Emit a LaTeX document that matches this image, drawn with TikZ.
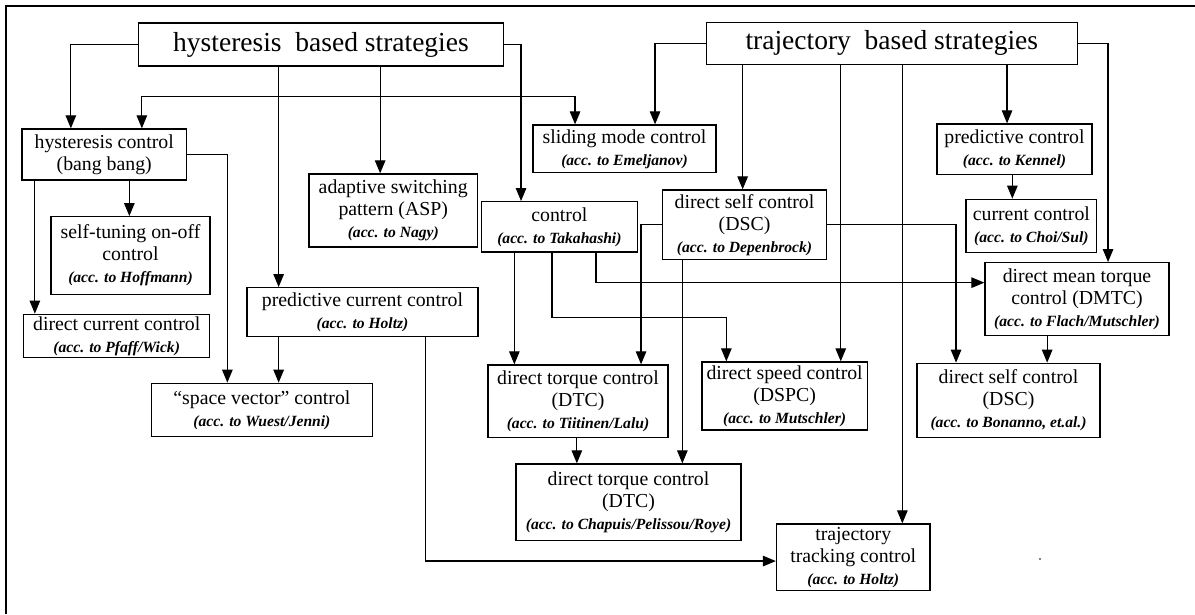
\documentclass[tikz,border=0pt]{standalone}
\usepackage{fontspec}
\setmainfont{Liberation Serif}
\usetikzlibrary{arrows.meta,calc}
\newcommand{\src}[1]{{\fontsize{15.6}{17.5}\selectfont\bfseries\itshape #1}}
\begin{document}
\begin{tikzpicture}[x=1pt,y=-1pt,
  box/.style={draw, line width=1.3pt, inner sep=0pt, align=center,
    font=\fontsize{19.8}{22}\selectfont},
  title/.style={font=\fontsize{27.5}{30}\selectfont},
  arr/.style={line width=1.2pt, -{Triangle[length=13pt,width=10.5pt]}}]
\useasboundingbox[fill=white] (0,0) rectangle (1195,614);
% outer frame
\draw[line width=1.8pt] (6,614) -- (6,6) -- (1195,6);

% top level
\node[box,title,minimum width=365pt,minimum height=43pt] (H) at (321,44.5) {hysteresis~~based strategies};
\node[box,title,minimum width=371pt,minimum height=42pt] (T) at (891.8,43.2) {trajectory~~based strategies};

% hysteresis branch
\node[box,minimum width=164.5pt,minimum height=51pt] (HC) at (104.25,154.5) {hysteresis control\\(bang bang)};
\node[box,minimum width=159pt,minimum height=77.6pt] (ST) at (130.5,255.5) {self-tuning on-off\\control\\\src{(acc. to Hoffmann)}};
\node[box,minimum width=186pt,minimum height=43pt] (DCC) at (116.7,335.8) {direct current control\\\src{(acc. to Pfaff/Wick)}};
\node[box,minimum width=168.5pt,minimum height=73pt] (ASP) at (393.25,210.5) {adaptive switching\\pattern (ASP)\\\src{(acc. to Nagy)}};
\node[box,minimum width=231pt,minimum height=49pt] (PCC) at (362.5,312.2) {predictive current control\\\src{(acc. to Holtz)}};
\node[box,minimum width=220.8pt,minimum height=53.4pt] (SV) at (261.9,410) {``space vector'' control\\\src{(acc. to Wuest/Jenni)}};
\node[box,minimum width=183pt,minimum height=47.7pt] (SM) at (624.5,148.85) {sliding mode control\\\src{(acc. to Emeljanov)}};
\node[box,minimum width=155.8pt,minimum height=50.3pt] (CT) at (559.4,226.85) {control\\\src{(acc. to Takahashi)}};

% trajectory branch
\node[box,minimum width=164.1pt,minimum height=69.7pt] (DSC1) at (744.55,224.85) {direct self control\\(DSC)\\\src{(acc. to Depenbrock)}};
\node[box,minimum width=155pt,minimum height=50.7pt] (PC) at (1014.5,149.35) {predictive control\\\src{(acc. to Kennel)}};
\node[box,minimum width=130.8pt,minimum height=53pt] (CC) at (1031.4,225.8) {current control\\\src{(acc. to Choi/Sul)}};
\node[box,minimum width=184pt,minimum height=73pt] (DMTC) at (1077,299.2) {direct mean torque\\control (DMTC)\\\src{(acc. to Flach/Mutschler)}};
\node[box,minimum width=180pt,minimum height=72.7pt] (DTC1) at (578,401.35) {direct torque control\\(DTC)\\\src{(acc. to Tiitinen/Lalu)}};
\node[box,minimum width=165.3pt,minimum height=68pt] (DSPC) at (784.65,396) {direct speed control\\(DSPC)\\\src{(acc. to Mutschler)}};
\node[box,minimum width=183pt,minimum height=74.4pt] (DSC2) at (1008.5,400.5) {direct self control\\(DSC)\\\src{(acc. to Bonanno, et.al.)}};
\node[box,minimum width=225pt,minimum height=76.7pt] (DTC2) at (628.5,502.35) {direct torque control\\(DTC)\\\src{(acc. to Chapuis/Pelissou/Roye)}};
\node[box,minimum width=153.5pt,minimum height=66.7pt] (TT) at (853.25,557.35) {trajectory\\tracking control\\\src{(acc. to Holtz)}};

% arrow entry points
\coordinate (hcA) at ([xshift=49.5pt]HC.north west);
\coordinate (hcB) at ([xshift=120.5pt]HC.north west);
\coordinate (smA) at ([xshift=42.7pt]SM.north west);
\coordinate (smB) at ([xshift=122.7pt]SM.north west);
\coordinate (aspT) at ([xshift=71.8pt]ASP.north west);
\coordinate (pccT) at ([xshift=32.3pt]PCC.north west);
\coordinate (ctT) at ([xshift=40.2pt]CT.north west);
\coordinate (dsc1T) at ([xshift=80.8pt]DSC1.north west);
\coordinate (pcT) at ([xshift=70.7pt]PC.north west);
\coordinate (ccT) at ([xshift=47pt]CC.north west);
\coordinate (dmtcT) at ([xshift=123.7pt]DMTC.north west);
\coordinate (dmtcW) at ([yshift=-20.6pt]DMTC.north west);
\coordinate (dspcA) at ([xshift=139.4pt]DSPC.north west);
\coordinate (dspcB) at ([xshift=25pt]DSPC.north west);
\coordinate (ttT) at ([xshift=126.5pt]TT.north west);
\coordinate (ttW) at ([yshift=-37.7pt]TT.north west);
\coordinate (stT) at ([xshift=79pt]ST.north west);
\coordinate (dccT) at ([xshift=11.8pt]DCC.north west);
\coordinate (svA) at ([xshift=76.5pt]SV.north west);
\coordinate (svB) at ([xshift=127.8pt]SV.north west);
\coordinate (dtc1A) at ([xshift=27pt]DTC1.north west);
\coordinate (dtc1B) at ([xshift=153.7pt]DTC1.north west);
\coordinate (dtc2A) at ([xshift=61.5pt]DTC2.north west);
\coordinate (dtc2B) at ([xshift=167pt]DTC2.north west);
\coordinate (dsc2A) at ([xshift=39.7pt]DSC2.north west);
\coordinate (dsc2B) at ([xshift=130.8pt]DSC2.north west);
\coordinate (j1) at (380.8,96.7);

% connectors from hysteresis based strategies
\draw[arr] (H.west) -| (hcA);
\draw[arr] (aspT |- H.south) -- (aspT);
\draw[arr] (pccT |- H.south) -- (pccT);
\draw[arr] (H.east) -| (ctT);
\draw[arr] (j1) -| (hcB);
\draw[arr] (j1) -| (smA);

% connectors from trajectory based strategies
\draw[arr] (T.west) -| (smB);
\draw[arr] (dsc1T |- T.south) -- (dsc1T);
\draw[arr] (dspcA |- T.south) -- (dspcA);
\draw[arr] (ttT |- T.south) -- (ttT);
\draw[arr] (pcT |- T.south) -- (pcT);
\draw[arr] (T.east) -| (dmtcT);
\draw[arr] (ccT |- PC.south) -- (ccT);

% lower level connectors
\draw[arr] (dccT |- HC.south) -- (dccT);
\draw[arr] (stT |- HC.south) -- (stT);
\draw[arr] (HC.east) -| (svA);
\draw[arr] (svB |- PCC.south) -- (svB);
\draw[arr] ([xshift=179.5pt]PCC.south west) |- (ttW);
\draw[arr] (dtc1A |- CT.south) -- (dtc1A);
\draw[arr] ([xshift=71.2pt]CT.south west) -- ++(0,64.7) -| (dspcB);
\draw[arr] ([xshift=115.2pt]CT.south west) |- (dmtcW);
\draw[arr] (DSC1.west) -| (dtc1B);
\draw[arr] (DSC1.east) -| (dsc2A);
\draw[arr] (dtc2B |- DSC1.south) -- (dtc2B);
\draw[arr] (dtc2A |- DTC1.south) -- (dtc2A);
\draw[arr] (dsc2B |- DMTC.south) -- (dsc2B);

\fill (1040,559) circle (0.8pt);
\end{tikzpicture}
\end{document}
